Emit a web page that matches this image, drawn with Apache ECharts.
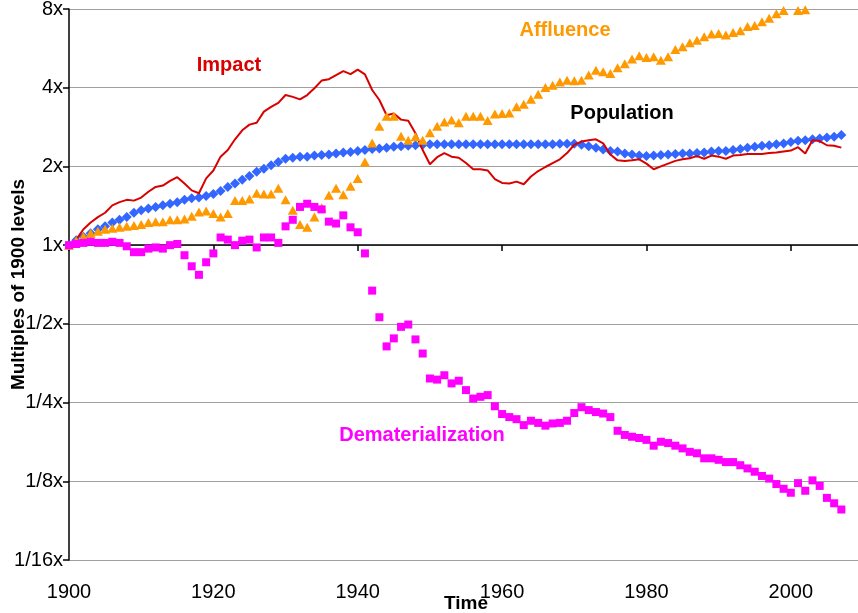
<!DOCTYPE html>
<html>
<head>
<meta charset="utf-8">
<script src="https://cdn.jsdelivr.net/npm/echarts@6/dist/echarts.min.js"></script>
<style>
  html, body { margin: 0; padding: 0; background: #fff; }
  #chart { width: 858px; height: 613px; }
</style>
</head>
<body>
<div id="chart"></div>
<script>
// one value per year, starting 1900
const startYear = 1900;

const population = [
  1.00, 1.045, 1.076, 1.11, 1.15, 1.18, 1.22, 1.25, 1.28, 1.33,
  1.36, 1.38, 1.40, 1.42, 1.44, 1.46, 1.49, 1.51, 1.52, 1.54,
  1.57, 1.61, 1.67, 1.72, 1.78, 1.84, 1.91, 1.96, 2.02, 2.08,
  2.14, 2.16, 2.18, 2.18, 2.20, 2.21, 2.22, 2.24, 2.26, 2.27,
  2.29, 2.31, 2.33, 2.34, 2.36, 2.38, 2.39, 2.40, 2.41, 2.42,
  2.43, 2.43, 2.43, 2.43, 2.43, 2.43, 2.43, 2.43, 2.43, 2.43,
  2.43, 2.43, 2.43, 2.43, 2.43, 2.43, 2.43, 2.43, 2.44, 2.44,
  2.44, 2.42, 2.39, 2.36, 2.32, 2.29, 2.28, 2.24, 2.22, 2.20,
  2.19, 2.20, 2.21, 2.22, 2.23, 2.24, 2.24, 2.25, 2.26, 2.28,
  2.29, 2.29, 2.31, 2.33, 2.36, 2.38, 2.40, 2.41, 2.43, 2.45,
  2.48, 2.51, 2.52, 2.54, 2.56, 2.58, 2.60, 2.64
];

const impact = [
  1.00, 1.05, 1.15, 1.22, 1.28, 1.33, 1.42, 1.46, 1.49, 1.48,
  1.52, 1.60, 1.67, 1.69, 1.76, 1.82, 1.72, 1.62, 1.58, 1.80,
  1.93, 2.18, 2.31, 2.54, 2.75, 2.89, 2.94, 3.24, 3.38, 3.50,
  3.75, 3.69, 3.61, 3.75, 3.98, 4.26, 4.31, 4.47, 4.63, 4.51,
  4.69, 4.50, 3.92, 3.59, 3.14, 3.19, 3.02, 2.99, 2.68, 2.31,
  2.04, 2.17, 2.25, 2.18, 2.16, 2.06, 1.95, 1.95, 1.93, 1.79,
  1.73, 1.72, 1.75, 1.71, 1.83, 1.92, 1.99, 2.06, 2.13, 2.25,
  2.42, 2.49, 2.52, 2.54, 2.45, 2.22, 2.11, 2.10, 2.11, 2.13,
  2.05, 1.95, 2.00, 2.05, 2.10, 2.13, 2.15, 2.19, 2.14, 2.20,
  2.18, 2.14, 2.20, 2.21, 2.23, 2.23, 2.23, 2.25, 2.26, 2.28,
  2.30, 2.37, 2.24, 2.52, 2.50, 2.41, 2.40, 2.36
];

// values above 8x fall outside the axis and are not shown
const affluence = [
  1.00, 1.04, 1.08, 1.11, 1.13, 1.15, 1.16, 1.17, 1.18, 1.19,
  1.20, 1.22, 1.23, 1.23, 1.25, 1.25, 1.26, 1.29, 1.34, 1.35,
  1.32, 1.28, 1.32, 1.48, 1.48, 1.50, 1.58, 1.57, 1.57, 1.65,
  1.49, 1.36, 1.20, 1.17, 1.28, 1.39, 1.55, 1.65, 1.56, 1.68,
  1.80, 2.08, 2.46, 2.85, 3.11, 3.11, 2.61, 2.52, 2.60, 2.52,
  2.69, 2.85, 2.96, 3.01, 2.94, 3.11, 3.11, 3.11, 3.00, 3.17,
  3.19, 3.20, 3.38, 3.46, 3.61, 3.78, 4.01, 4.09, 4.21, 4.27,
  4.25, 4.27, 4.47, 4.67, 4.60, 4.53, 4.77, 4.94, 5.15, 5.30,
  5.22, 5.25, 5.10, 5.25, 5.60, 5.74, 5.94, 6.08, 6.26, 6.42,
  6.45, 6.36, 6.50, 6.60, 6.85, 6.92, 7.15, 7.38, 7.67, 7.90,
  null, 7.90, 7.95, null, null, null, null, null
];

const dematerialization = [
  1.00, 1.01, 1.02, 1.03, 1.02, 1.02, 1.03, 1.02, 0.99, 0.94,
  0.94, 0.97, 0.98, 0.97, 1.00, 1.01, 0.915, 0.83, 0.77, 0.86,
  0.93, 1.07, 1.05, 1.00, 1.04, 1.05, 0.98, 1.07, 1.07, 1.02,
  1.18, 1.25, 1.40, 1.44, 1.40, 1.37, 1.23, 1.21, 1.30, 1.17,
  1.12, 0.93, 0.67, 0.53, 0.41, 0.44, 0.487, 0.497, 0.436, 0.385,
  0.309, 0.306, 0.318, 0.296, 0.303, 0.279, 0.259, 0.263, 0.267, 0.242,
  0.226, 0.220, 0.216, 0.205, 0.213, 0.209, 0.204, 0.208, 0.209, 0.213,
  0.228, 0.240, 0.234, 0.230, 0.227, 0.220, 0.195, 0.188, 0.185, 0.183,
  0.180, 0.171, 0.177, 0.175, 0.171, 0.167, 0.162, 0.160, 0.153, 0.153,
  0.151, 0.148, 0.148, 0.144, 0.140, 0.136, 0.131, 0.128, 0.122, 0.117,
  0.113, 0.123, 0.115, 0.126, 0.120, 0.108, 0.103, 0.0975
];

const yTickLabels = ['1/16x', '1/8x', '1/4x', '1/2x', '1x', '2x', '4x', '8x'];

function toPairs(values) {
  return values.map((v, i) => [startYear + i, v]);
}

const chart = echarts.init(document.getElementById('chart'));

const axisFont = 'Arial, "Liberation Sans", sans-serif';

const option = {
  animation: false,
  grid: {
    left: 69,
    right: -5,
    top: 9,
    bottom: 53,
    containLabel: false,
    outerBoundsMode: 'none'
  },
  xAxis: [
    {
      type: 'value',
      min: 1900,
      max: 2010,
      interval: 20,
      axisLine: { show: false },
      axisTick: { show: false },
      splitLine: { show: false },
      axisLabel: {
        color: '#000',
        fontSize: 20,
        fontFamily: axisFont,
        margin: 22,
        showMaxLabel: false,
        formatter: function (v) { return String(v); }
      },
      name: 'Time',
      nameLocation: 'middle',
      nameGap: 34,
      nameMoveOverlap: false,
      nameTextStyle: {
        color: '#000',
        fontSize: 19,
        fontWeight: 'bold',
        fontFamily: axisFont
      }
    },
    {
      // axis line drawn where the y axis reads 1x
      type: 'value',
      position: 'bottom',
      offset: -315,
      min: 1900,
      max: 2010,
      interval: 20,
      axisLine: { show: true, lineStyle: { color: '#000', width: 1.5 } },
      axisTick: { show: true, length: 6, lineStyle: { color: '#000', width: 1.5 } },
      axisLabel: { show: false },
      splitLine: { show: false }
    }
  ],
  yAxis: {
    type: 'log',
    logBase: 2,
    min: 1 / 16,
    max: 8,
    splitNumber: 7,
    axisLine: { show: true, lineStyle: { color: '#000', width: 1.5 } },
    axisTick: { show: true, length: 6, lineStyle: { color: '#000', width: 1.5 } },
    splitLine: { show: true, lineStyle: { color: '#a0a0a0', width: 1 } },
    axisLabel: {
      color: '#000',
      fontSize: 20,
      fontFamily: axisFont,
      margin: 6,
      formatter: function (v) {
        return yTickLabels[Math.round(Math.log2(v)) + 4];
      }
    },
    name: 'Multiples of 1900 levels',
    nameLocation: 'middle',
    nameGap: 41,
    nameMoveOverlap: false,
    nameTextStyle: {
      color: '#000',
      fontSize: 19,
      fontWeight: 'bold',
      fontFamily: axisFont
    }
  },
  series: [
    {
      name: 'Population',
      type: 'scatter',
      symbol: 'diamond',
      symbolSize: 10,
      itemStyle: { color: '#3366ff', opacity: 1 },
      z: 2,
      data: toPairs(population)
    },
    {
      name: 'Impact',
      type: 'line',
      showSymbol: false,
      lineStyle: { color: '#d90000', width: 2 },
      itemStyle: { color: '#d90000' },
      z: 3,
      data: toPairs(impact)
    },
    {
      name: 'Affluence',
      type: 'scatter',
      symbol: 'triangle',
      symbolSize: [10, 9],
      itemStyle: { color: '#ff9900', opacity: 1 },
      z: 3,
      data: toPairs(affluence)
    },
    {
      name: 'Dematerialization',
      type: 'scatter',
      symbol: 'rect',
      symbolSize: 8,
      itemStyle: { color: '#ff00ff', opacity: 1 },
      z: 4,
      data: toPairs(dematerialization)
    }
  ],
  graphic: [
    { type: 'text', x: 229, y: 65, style: { text: 'Impact', fill: '#d90000', font: 'bold 20px ' + axisFont, align: 'center', verticalAlign: 'middle' } },
    { type: 'text', x: 565, y: 30, style: { text: 'Affluence', fill: '#ff9900', font: 'bold 20px ' + axisFont, align: 'center', verticalAlign: 'middle' } },
    { type: 'text', x: 622, y: 113, style: { text: 'Population', fill: '#000', font: 'bold 20px ' + axisFont, align: 'center', verticalAlign: 'middle' } },
    { type: 'text', x: 422, y: 435, style: { text: 'Dematerialization', fill: '#ff00ff', font: 'bold 20px ' + axisFont, align: 'center', verticalAlign: 'middle' } }
  ]
};

chart.setOption(option);
</script>
</body>
</html>
